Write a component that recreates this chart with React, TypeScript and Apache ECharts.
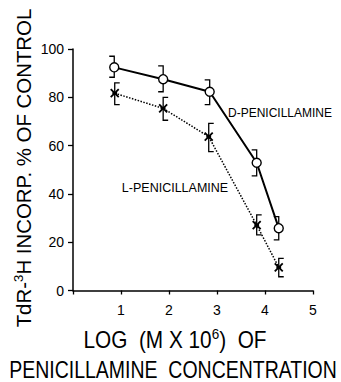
import React, { useEffect, useRef } from "react";
import * as echarts from "echarts";

const xD = [0.86, 1.88, 2.85, 3.83, 4.29];
const dMean = [92.4, 87.5, 82.3, 52.9, 25.8];
const dLow = [88.3, 82.3, 77, 47.5, 21];
const dHigh = [97, 93, 87.2, 58.2, 30.6];

const xL = [0.87, 1.88, 2.83, 3.83, 4.29];
const lMean = [81.7, 75.4, 63.7, 27.1, 9.6];
const lLow = [77, 70.5, 57.5, 23, 5.7];
const lHigh = [86, 80, 69.2, 31.3, 13.3];

const xTickLabels = ["", "1", "2", "3", "4", "5"];
const yTickLabels = ["0", "20", "40", "60", "80", "100"];

const FONT = "Liberation Sans, Arial, sans-serif";

function errorSeries(xs: number[], lows: number[], highs: number[], capDir: number) {
  return {
    type: "custom",
    z: 1,
    silent: true,
    data: xs.map((x, i) => [x, lows[i], highs[i]]),
    renderItem: (params: any, api: any) => {
      const lo = api.coord([api.value(0), api.value(1)]);
      const hi = api.coord([api.value(0), api.value(2)]);
      const cx = lo[0];
      return {
        type: "polyline",
        shape: {
          points: [
            [cx + capDir * 5, hi[1]],
            [cx, hi[1]],
            [cx, lo[1]],
            [cx + capDir * 5, lo[1]],
          ],
        },
        style: { stroke: "#000", lineWidth: 1.3, fill: "none" },
      };
    },
  };
}

export default function App() {
  const ref = useRef<HTMLDivElement>(null);
  useEffect(() => {
    document.body.style.margin = "0";
    const chart = echarts.init(ref.current!, null, { renderer: "svg" });
    chart.setOption({
      animation: false,
      backgroundColor: "#fff",
      grid: { left: 73, right: 28.2, top: 49, bottom: 91.5 },
      xAxis: {
        type: "value",
        min: 0,
        max: 5,
        interval: 1,
        splitLine: { show: false },
        axisLine: { show: true, lineStyle: { color: "#000", width: 1.5 } },
        axisTick: { show: true, length: 4, lineStyle: { color: "#000", width: 1.3 } },
        axisLabel: {
          margin: 12,
          color: "#000",
          fontSize: 14,
          fontFamily: FONT,
          formatter: (v: number) => xTickLabels[Math.round(v)] ?? "",
        },
      },
      yAxis: {
        type: "value",
        min: 0,
        max: 100,
        interval: 20,
        splitLine: { show: false },
        axisLine: { show: true, lineStyle: { color: "#000", width: 1.5 } },
        axisTick: { show: true, length: 5, lineStyle: { color: "#000", width: 1.3 } },
        axisLabel: {
          margin: 9,
          color: "#000",
          fontSize: 14,
          fontFamily: FONT,
          formatter: (v: number) => yTickLabels[Math.round(v / 20)] ?? "",
        },
      },
      series: [
        errorSeries(xD, dLow, dHigh, -1),
        errorSeries(xL, lLow, lHigh, 1),
        {
          type: "line",
          z: 3,
          data: xD.map((x, i) => [x, dMean[i]]),
          symbol: "circle",
          symbolSize: 9,
          lineStyle: { color: "#000", width: 2 },
          itemStyle: { color: "#fff", borderColor: "#000", borderWidth: 1.4 },
        },
        {
          type: "line",
          z: 2,
          data: xL.map((x, i) => [x, lMean[i]]),
          symbol: "path://M0,0L10,10M10,0L0,10M2,5L8,5",
          symbolSize: 8,
          lineStyle: { color: "#000", width: 1.5, type: "dotted" },
          itemStyle: { color: "#000", borderColor: "#000", borderWidth: 1.8 },
        },
      ],
      graphic: [
        {
          type: "text",
          x: 24,
          y: 168,
          rotation: Math.PI / 2,
          scaleX: 1.02,
          style: {
            text: "{a|TdR-}{s|3}{a|H INCORP. % OF CONTROL}",
            align: "center",
            verticalAlign: "middle",
            fill: "#000",
            rich: {
              a: { fontSize: 20, fontFamily: FONT, lineHeight: 24, fill: "#000" },
              s: { fontSize: 13, fontFamily: FONT, lineHeight: 14, verticalAlign: "top", fill: "#000" },
            },
          },
        },
        {
          type: "text",
          x: 175,
          y: 340,
          scaleX: 1.04,
          scaleY: 1.15,
          style: {
            text: "{a|LOG  (M X 10}{s|6}{a|)  OF}",
            align: "center",
            verticalAlign: "middle",
            fill: "#000",
            rich: {
              a: { fontSize: 20, fontFamily: FONT, lineHeight: 24, fill: "#000" },
              s: { fontSize: 13, fontFamily: FONT, lineHeight: 14, verticalAlign: "top", fill: "#000" },
            },
          },
        },
        {
          type: "text",
          x: 173,
          y: 370,
          scaleY: 1.2,
          style: {
            text: "PENICILLAMINE  CONCENTRATION",
            align: "center",
            verticalAlign: "middle",
            fill: "#000",
            fontSize: 19.5,
            fontFamily: FONT,
          },
        },
        {
          type: "text",
          x: 280,
          y: 112.5,
          style: {
            text: "D-PENICILLAMINE",
            align: "center",
            verticalAlign: "middle",
            fill: "#000",
            fontSize: 12,
            fontFamily: FONT,
          },
        },
        {
          type: "text",
          x: 175,
          y: 188,
          style: {
            text: "L-PENICILLAMINE",
            align: "center",
            verticalAlign: "middle",
            fill: "#000",
            fontSize: 12.5,
            fontFamily: FONT,
          },
        },
      ],
    });
    return () => chart.dispose();
  }, []);
  return <div ref={ref} style={{ width: 341, height: 382 }} />;
}
